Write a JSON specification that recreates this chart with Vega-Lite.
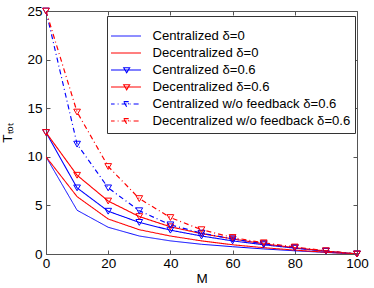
{
  "$schema": "https://vega.github.io/schema/vega-lite/v6.json",
  "width": 311,
  "height": 243,
  "autosize": "none",
  "padding": {"left": 46, "top": 11, "right": 17, "bottom": 34},
  "background": "white",
  "config": {
    "view": {"stroke": "#555", "strokeWidth": 1},
    "font": "Liberation Sans",
    "axis": {
      "grid": false,
      "domainColor": "#555",
      "tickColor": "#555",
      "labelColor": "#000",
      "titleColor": "#000",
      "labelFont": "Liberation Sans",
      "labelFontSize": 13.5,
      "titleFont": "Liberation Sans",
      "titleFontSize": 13.5,
      "titleFontWeight": "normal",
      "tickSize": -4,
      "labelFlush": false
    },
    "legend": {
      "orient": "none",
      "legendX": 61,
      "legendY": 5,
      "padding": 4,
      "strokeColor": "#333",
      "fillColor": "white",
      "symbolSize": 196,
      "symbolOffset": 6.3,
      "labelOffset": 19.3,
      "labelFont": "Liberation Sans",
      "labelFontSize": 13.1,
      "labelColor": "#000",
      "labelLimit": 400,
      "rowPadding": 2,
      "clipHeight": 14,
      "titleFontSize": 6,
      "titlePadding": 3,
      "symbolFillColor": "white",
      "cornerRadius": 0
    }
  },
  "data": {
    "values": [
      {"M": 0, "T": 10, "series": "Centralized δ=0"},
      {"M": 10, "T": 4.5, "series": "Centralized δ=0"},
      {"M": 20, "T": 2.75, "series": "Centralized δ=0"},
      {"M": 30, "T": 1.85, "series": "Centralized δ=0"},
      {"M": 40, "T": 1.35, "series": "Centralized δ=0"},
      {"M": 50, "T": 1.0, "series": "Centralized δ=0"},
      {"M": 60, "T": 0.75, "series": "Centralized δ=0"},
      {"M": 70, "T": 0.52, "series": "Centralized δ=0"},
      {"M": 80, "T": 0.33, "series": "Centralized δ=0"},
      {"M": 90, "T": 0.16, "series": "Centralized δ=0"},
      {"M": 100, "T": 0, "series": "Centralized δ=0"},
      {"M": 0, "T": 10, "series": "Decentralized δ=0"},
      {"M": 10, "T": 5.9, "series": "Decentralized δ=0"},
      {"M": 20, "T": 3.6, "series": "Decentralized δ=0"},
      {"M": 30, "T": 2.5, "series": "Decentralized δ=0"},
      {"M": 40, "T": 1.85, "series": "Decentralized δ=0"},
      {"M": 50, "T": 1.35, "series": "Decentralized δ=0"},
      {"M": 60, "T": 0.95, "series": "Decentralized δ=0"},
      {"M": 70, "T": 0.65, "series": "Decentralized δ=0"},
      {"M": 80, "T": 0.4, "series": "Decentralized δ=0"},
      {"M": 90, "T": 0.18, "series": "Decentralized δ=0"},
      {"M": 100, "T": 0, "series": "Decentralized δ=0"},
      {"M": 0, "T": 12.5, "series": "Centralized δ=0.6"},
      {"M": 10, "T": 6.8, "series": "Centralized δ=0.6"},
      {"M": 20, "T": 4.4, "series": "Centralized δ=0.6"},
      {"M": 30, "T": 3.25, "series": "Centralized δ=0.6"},
      {"M": 40, "T": 2.45, "series": "Centralized δ=0.6"},
      {"M": 50, "T": 1.85, "series": "Centralized δ=0.6"},
      {"M": 60, "T": 1.35, "series": "Centralized δ=0.6"},
      {"M": 70, "T": 0.95, "series": "Centralized δ=0.6"},
      {"M": 80, "T": 0.6, "series": "Centralized δ=0.6"},
      {"M": 90, "T": 0.28, "series": "Centralized δ=0.6"},
      {"M": 100, "T": 0, "series": "Centralized δ=0.6"},
      {"M": 0, "T": 12.5, "series": "Decentralized δ=0.6"},
      {"M": 10, "T": 8.1, "series": "Decentralized δ=0.6"},
      {"M": 20, "T": 5.45, "series": "Decentralized δ=0.6"},
      {"M": 30, "T": 3.85, "series": "Decentralized δ=0.6"},
      {"M": 40, "T": 2.8, "series": "Decentralized δ=0.6"},
      {"M": 50, "T": 2.1, "series": "Decentralized δ=0.6"},
      {"M": 60, "T": 1.55, "series": "Decentralized δ=0.6"},
      {"M": 70, "T": 1.05, "series": "Decentralized δ=0.6"},
      {"M": 80, "T": 0.65, "series": "Decentralized δ=0.6"},
      {"M": 90, "T": 0.3, "series": "Decentralized δ=0.6"},
      {"M": 100, "T": 0, "series": "Decentralized δ=0.6"},
      {"M": 0, "T": 25, "series": "Centralized w/o feedback δ=0.6"},
      {"M": 10, "T": 11.3, "series": "Centralized w/o feedback δ=0.6"},
      {"M": 20, "T": 6.8, "series": "Centralized w/o feedback δ=0.6"},
      {"M": 30, "T": 4.45, "series": "Centralized w/o feedback δ=0.6"},
      {"M": 40, "T": 3.0, "series": "Centralized w/o feedback δ=0.6"},
      {"M": 50, "T": 2.15, "series": "Centralized w/o feedback δ=0.6"},
      {"M": 60, "T": 1.55, "series": "Centralized w/o feedback δ=0.6"},
      {"M": 70, "T": 1.05, "series": "Centralized w/o feedback δ=0.6"},
      {"M": 80, "T": 0.65, "series": "Centralized w/o feedback δ=0.6"},
      {"M": 90, "T": 0.3, "series": "Centralized w/o feedback δ=0.6"},
      {"M": 100, "T": 0, "series": "Centralized w/o feedback δ=0.6"},
      {"M": 0, "T": 25, "series": "Decentralized w/o feedback δ=0.6"},
      {"M": 10, "T": 14.6, "series": "Decentralized w/o feedback δ=0.6"},
      {"M": 20, "T": 9.0, "series": "Decentralized w/o feedback δ=0.6"},
      {"M": 30, "T": 5.7, "series": "Decentralized w/o feedback δ=0.6"},
      {"M": 40, "T": 3.75, "series": "Decentralized w/o feedback δ=0.6"},
      {"M": 50, "T": 2.5, "series": "Decentralized w/o feedback δ=0.6"},
      {"M": 60, "T": 1.7, "series": "Decentralized w/o feedback δ=0.6"},
      {"M": 70, "T": 1.15, "series": "Decentralized w/o feedback δ=0.6"},
      {"M": 80, "T": 0.72, "series": "Decentralized w/o feedback δ=0.6"},
      {"M": 90, "T": 0.33, "series": "Decentralized w/o feedback δ=0.6"},
      {"M": 100, "T": 0, "series": "Decentralized w/o feedback δ=0.6"}
    ]
  },
  "layer": [
    {
      "mark": {"type": "line", "clip": true},
      "encoding": {
        "x": {"field": "M", "type": "quantitative", "scale": {"domain": [0, 100], "nice": false}, "axis": {"orient": "bottom", "values": [0, 20, 40, 60, 80, 100], "title": "M", "labelPadding": 6, "titlePadding": 2, "domain": false}},
        "y": {"field": "T", "type": "quantitative", "scale": {"domain": [0, 25], "nice": false}, "axis": {"orient": "left", "values": [0, 5, 10, 15, 20, 25], "title": "Tₜₒₜ", "labelPadding": 8, "titlePadding": 12, "domain": false}},
        "color": {"field": "series", "type": "nominal", "title": " ", "scale": {"domain": ["Centralized δ=0", "Decentralized δ=0", "Centralized δ=0.6", "Decentralized δ=0.6", "Centralized w/o feedback δ=0.6", "Decentralized w/o feedback δ=0.6"], "range": ["#0000ff", "#ff0000", "#0000ff", "#ff0000", "#0000ff", "#ff0000"]}},
        "strokeDash": {"field": "series", "type": "nominal", "title": " ", "scale": {"domain": ["Centralized δ=0", "Decentralized δ=0", "Centralized δ=0.6", "Decentralized δ=0.6", "Centralized w/o feedback δ=0.6", "Decentralized w/o feedback δ=0.6"], "range": [[1, 0], [1, 0], [1, 0], [1, 0], [5, 3, 1, 3], [5, 3, 1, 3]]}},
        "strokeWidth": {"field": "series", "type": "nominal", "title": " ", "scale": {"domain": ["Centralized δ=0", "Decentralized δ=0", "Centralized δ=0.6", "Decentralized δ=0.6", "Centralized w/o feedback δ=0.6", "Decentralized w/o feedback δ=0.6"], "range": [1, 1.2, 1.4, 1, 1, 1]}}
      }
    },
    {
      "transform": [{"filter": {"field": "series", "oneOf": ["Centralized δ=0.6", "Decentralized δ=0.6", "Centralized w/o feedback δ=0.6", "Decentralized w/o feedback δ=0.6"]}}],
      "mark": {"type": "point", "shape": "triangle-down", "size": 45, "filled": false, "strokeWidth": 1, "opacity": 1},
      "encoding": {
        "x": {"field": "M", "type": "quantitative", "axis": null},
        "y": {"field": "T", "type": "quantitative", "axis": null},
        "color": {"field": "series", "type": "nominal", "title": " ", "scale": {"domain": ["Centralized δ=0", "Decentralized δ=0", "Centralized δ=0.6", "Decentralized δ=0.6", "Centralized w/o feedback δ=0.6", "Decentralized w/o feedback δ=0.6"], "range": ["#0000ff", "#ff0000", "#0000ff", "#ff0000", "#0000ff", "#ff0000"]}}
      }
    },
    {
      "transform": [{"filter": "false"}],
      "mark": {"type": "point"},
      "encoding": {
        "x": {"field": "M", "type": "quantitative", "axis": {"orient": "top", "labels": false, "title": null, "values": [0, 20, 40, 60, 80, 100], "domain": false}},
        "y": {"field": "T", "type": "quantitative", "axis": {"orient": "right", "labels": false, "title": null, "values": [0, 5, 10, 15, 20, 25], "domain": false}},
        "shape": {"field": "series", "type": "nominal", "title": " ", "scale": {"domain": ["Centralized δ=0", "Decentralized δ=0", "Centralized δ=0.6", "Decentralized δ=0.6", "Centralized w/o feedback δ=0.6", "Decentralized w/o feedback δ=0.6"], "range": ["M-2.24,0L2.24,0", "M-2.24,0L2.24,0", "M-2.24,0L2.24,0M-0.23,-0.33L0.63,-0.33L0.2,0.4Z", "M-2.24,0L2.24,0M-0.23,-0.33L0.63,-0.33L0.2,0.4Z", "M-2.24,0L2.24,0M-0.23,-0.33L0.63,-0.33L0.2,0.4Z", "M-2.24,0L2.24,0M-0.23,-0.33L0.63,-0.33L0.2,0.4Z"]}}
      }
    }
  ],
  "resolve": {"axis": {"x": "independent", "y": "independent"}}
}
